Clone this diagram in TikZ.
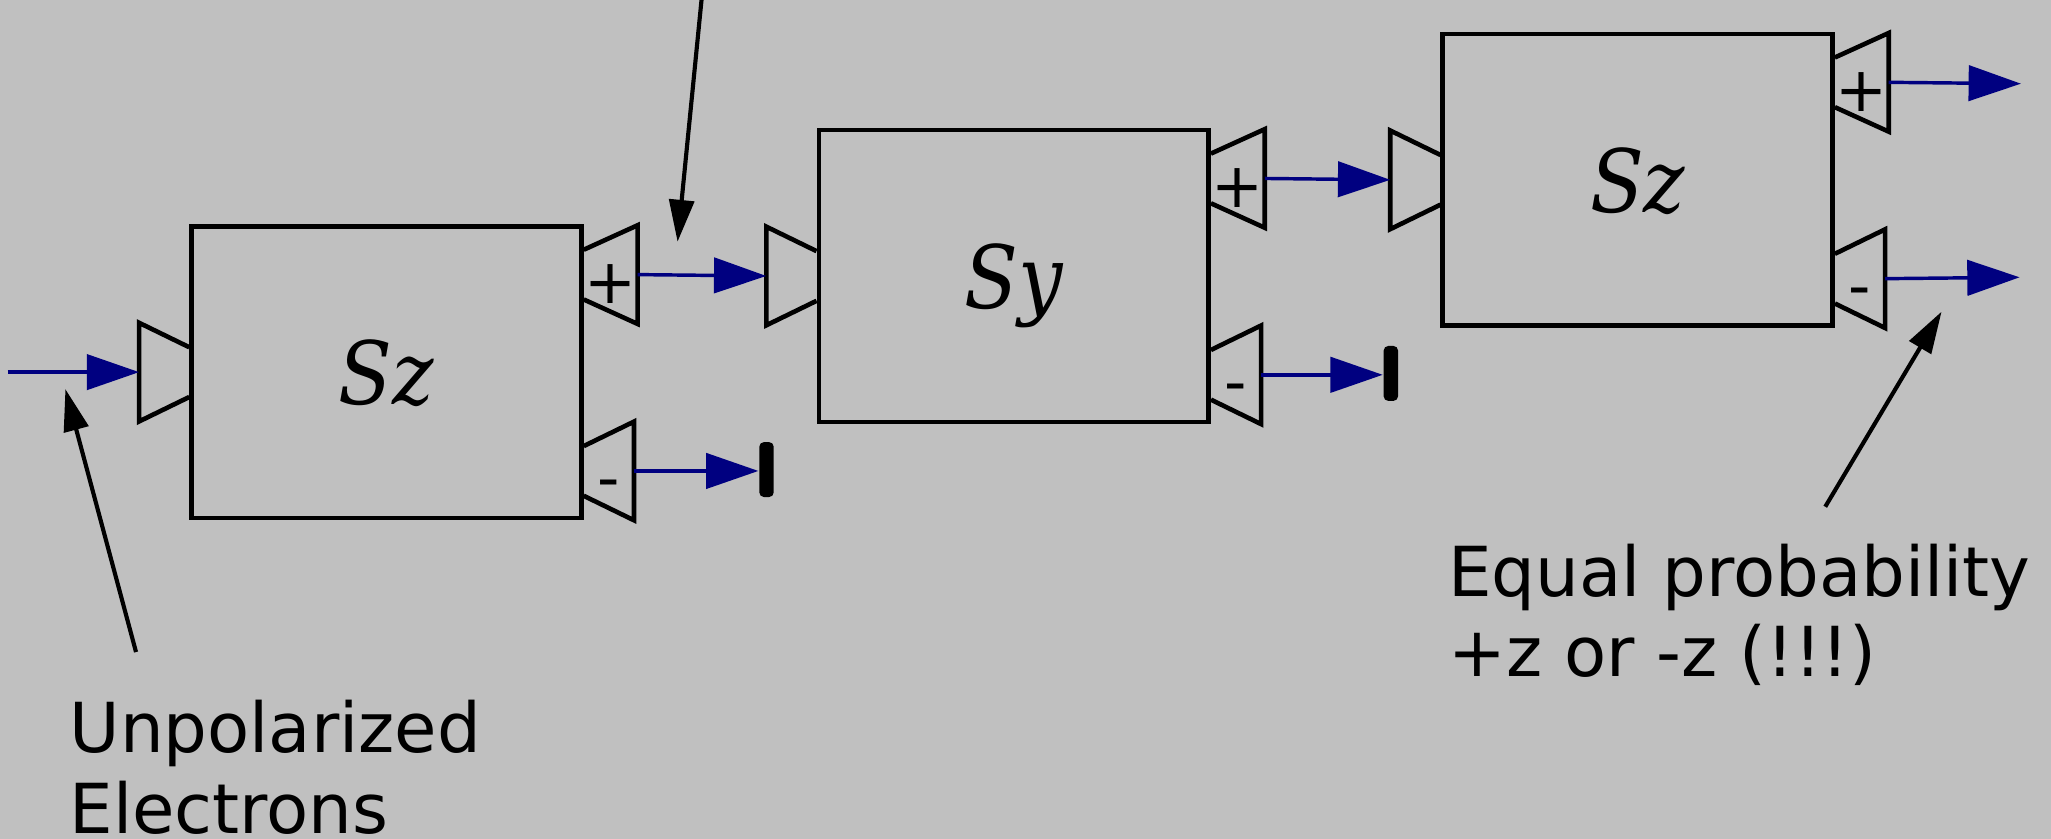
\documentclass[tikz,border=0pt]{standalone}
\usepackage{fontspec}
\setmainfont{DejaVu Sans}
\newfontfamily\devfont{DejaVu Serif Condensed}
\usepackage{tikz}
\usetikzlibrary{positioning,arrows.meta}
\definecolor{bggray}{RGB}{192,192,192}
\definecolor{beamblue}{RGB}{0,0,128}
\tikzset{
  magnet/.style={draw, line width=1pt, minimum width=2.98cm, minimum height=2.23cm, inner sep=0pt,
    text depth=0pt, font=\devfont\itshape\fontsize{19}{22}\selectfont},
  port/.style={minimum width=0.37cm, minimum height=0.74cm, inner sep=0pt,
    text height=0.44cm, text depth=0pt, font=\fontsize{13.5}{15}\selectfont},
  portline/.style={line width=1pt},
  beam/.style={-{Triangle[length=4mm, width=2.7mm]}, line width=0.75pt, color=beamblue},
  pointer/.style={-{Triangle[length=3.2mm, width=1.9mm]}, line width=0.9pt},
  stopper/.style={fill=black, rounded corners=1pt, minimum width=0.11cm, minimum height=0.42cm, inner sep=0pt},
  note/.style={align=left, inner sep=0pt, font=\fontsize{15}{17.5}\selectfont},
}
% entry port: wide side faces the incoming beam
\newcommand{\inport}[2]{%
  \node[port, left=0pt of #2] (#1) {};
  \draw[portline] ([yshift=0.19cm]#1.east) -- (#1.north west) -- (#1.south west) -- ([yshift=-0.19cm]#1.east);}
% exit port: #1 name, #2 placement, #3 sign
\newcommand{\outport}[3]{%
  \node[port, #2] (#1) {#3};
  \draw[portline] ([yshift=0.19cm]#1.west) -- (#1.north east) -- (#1.south east) -- ([yshift=-0.19cm]#1.west);}

\begin{document}
\begin{tikzpicture}
  \path[use as bounding box, fill=bggray] (0,0) rectangle (15.68,-6.414);

  % the three magnets
  \node[magnet] (sz1) at (2.955,-2.845) {Sz};
  \node[magnet] (sy2) at (7.75,-2.11) {Sy};
  \node[magnet] (sz3) at (12.52,-1.375) {Sz};

  \inport{in1}{sz1}
  \inport{in2}{sy2}
  \inport{in3}{sz3}
  \outport{up1}{below right=0.01cm and 0pt of sz1.north east}{+}
  \outport{down1}{above right=0pt and 0pt of sz1.south east}{-}
  \outport{up2}{below right=0.01cm and 0pt of sy2.north east}{+}
  \outport{down2}{above right=0pt and 0pt of sy2.south east}{-}
  \outport{up3}{below right=0.01cm and 0pt of sz3.north east}{+}
  \outport{down3}{above right=0pt and 0pt of sz3.south east}{-}

  % blocked beams
  \node[stopper] (stop1) at (5.86,-3.59) {};
  \node[stopper] (stop2) at (10.633,-2.855) {};

  \coordinate (src) at (0.058,-2.845);
  \coordinate (outup) at (15.45,-0.64);
  \coordinate (outdown) at (15.44,-2.12);

  \draw[beam] (src) -- (in1.west);
  \draw[beam] (up1.east) -- (in2.west);
  \draw[beam] (down1.east) -- (down1.east -| stop1.west);
  \draw[beam] (up2.east) -- (in3.west);
  \draw[beam] (down2.east) -- (down2.east -| stop2.west);
  \draw[beam] (up3.east) -- (outup);
  \draw[beam] (down3.east) -- (outdown);

  % notes
  \node[note, anchor=north west] (unpol) at (0.525,-5.346) {Unpolarized\\Electrons};
  \node[note, anchor=north west] (equal) at (11.065,-4.149) {Equal probability\\+z or -z (!!!)};

  \coordinate (toptail) at (5.373,0.10);
  \coordinate (toptip) at (5.18,-1.848);
  \coordinate (lefttail) at (1.04,-4.985);
  \coordinate (lefttip) at (0.50,-2.975);
  \coordinate (righttail) at (13.954,-3.874);
  \coordinate (righttip) at (14.843,-2.383);
  \draw[pointer] (toptail) -- (toptip);
  \draw[pointer] (lefttail) -- (lefttip);
  \draw[pointer] (righttail) -- (righttip);
\end{tikzpicture}
\end{document}
